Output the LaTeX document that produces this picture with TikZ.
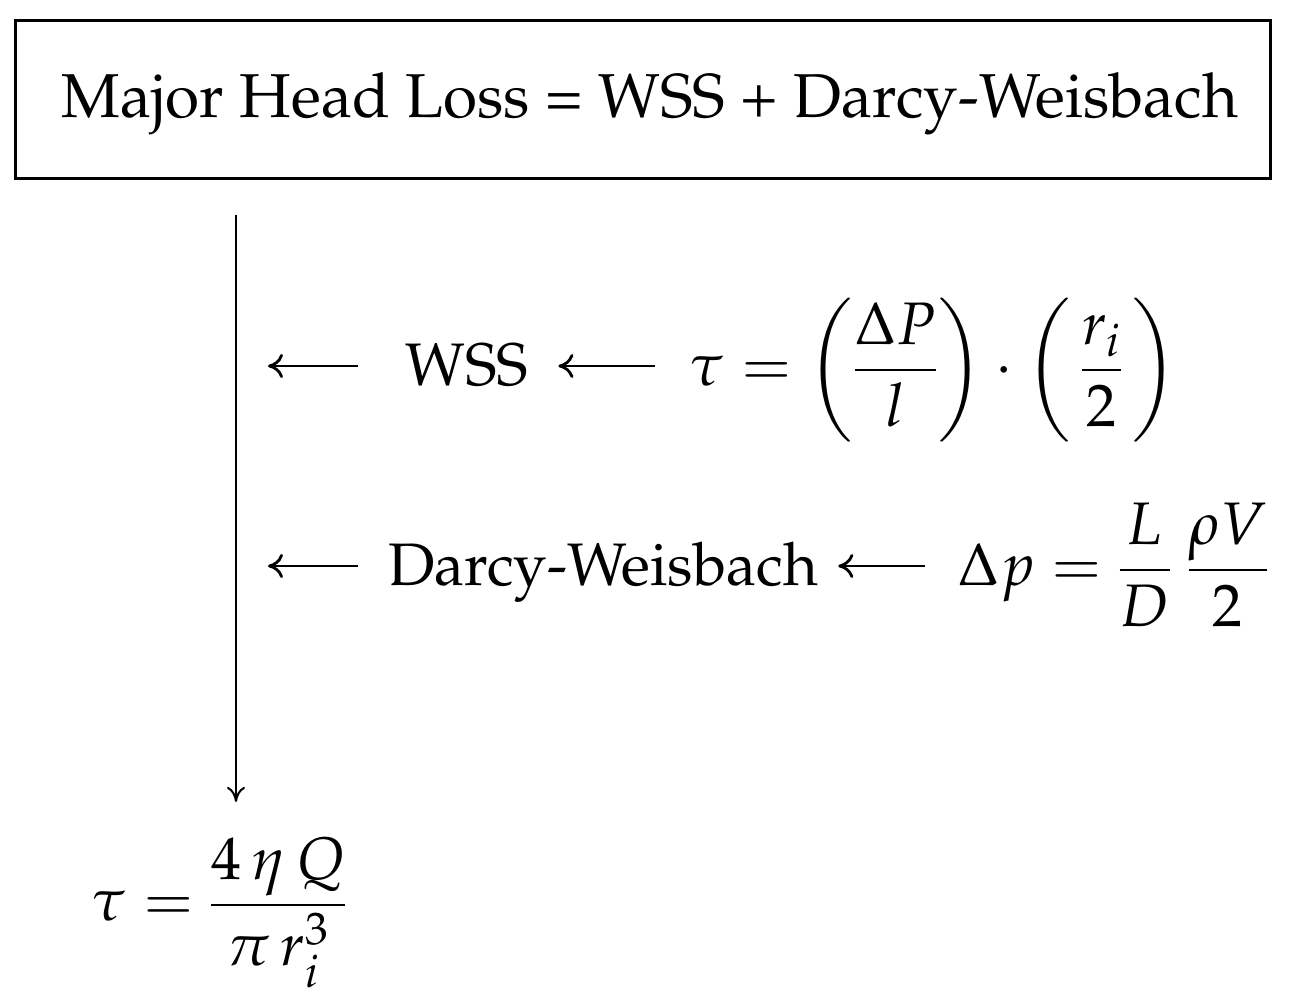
\documentclass[tikz,border=0pt]{standalone}
\usepackage{mathpazo}
\usetikzlibrary{arrows.meta}
\newcommand{\palfont}{\fontencoding{OT1}\fontfamily{ppl}\fontsize{60}{72}\selectfont}
\newcommand{\paltitle}{\fontencoding{OT1}\fontfamily{ppl}\fontsize{62}{74}\selectfont}
\begin{document}
\tikzset{
  lbl/.style={inner sep=0pt, anchor=base west, font=\palfont},
  harr/.style={line width=2.8pt, -{To[length=15pt,width=24pt]}},
  varr/.style={line width=2pt, -{To[length=15pt,width=18pt]}},
  titlebox/.style={draw, line width=3pt, minimum width=1255pt, minimum height=158pt,
    inner sep=0pt, text height=46pt, text depth=10pt, font=\paltitle},
}
\begin{tikzpicture}[x=1pt,y=-1pt]
\useasboundingbox (0,0) rectangle (1296,1002);
\fill[white] (0,0) rectangle (1296,1002);
\node[titlebox] (title) at (642.5,99) {\hspace*{15pt}Major Head Loss = WSS + Darcy-Weisbach};
\coordinate (vx) at (236,0);
\coordinate (r1) at (0,366);
\coordinate (r2) at (0,566);
\node[lbl] (wss) at (405,385) {WSS};
\node[lbl] (f1) at (690,385) {$\displaystyle \tau = \left(\frac{\Delta P}{l}\right)\cdot\left(\,\frac{r_i}{2}\,\right)$};
\node[lbl] (dw) at (388,585) {Darcy-Weisbach};
\node[lbl] (f2) at (958,585) {$\displaystyle \Delta p = \frac{L}{D}\;\frac{\rho V}{2}$};
\node[lbl] (f3) at (92,920) {$\displaystyle \tau = \frac{4\,\eta\,Q}{\pi\,r_i^3}$};
\draw[harr, shorten <=47pt, shorten >=32pt] (wss.west |- r1) -- (vx |- r1);
\draw[harr, shorten <=35pt, shorten >=30pt] (f1.west |- r1) -- (wss.east |- r1);
\draw[harr, shorten <=30pt, shorten >=32pt] (dw.west |- r2) -- (vx |- r2);
\draw[harr, shorten <=33pt, shorten >=20pt] (f2.west |- r2) -- (dw.east |- r2);
\draw[varr, shorten <=35pt, shorten >=35pt] (title.south -| vx) -- (f3.north -| vx);
\end{tikzpicture}
\end{document}
